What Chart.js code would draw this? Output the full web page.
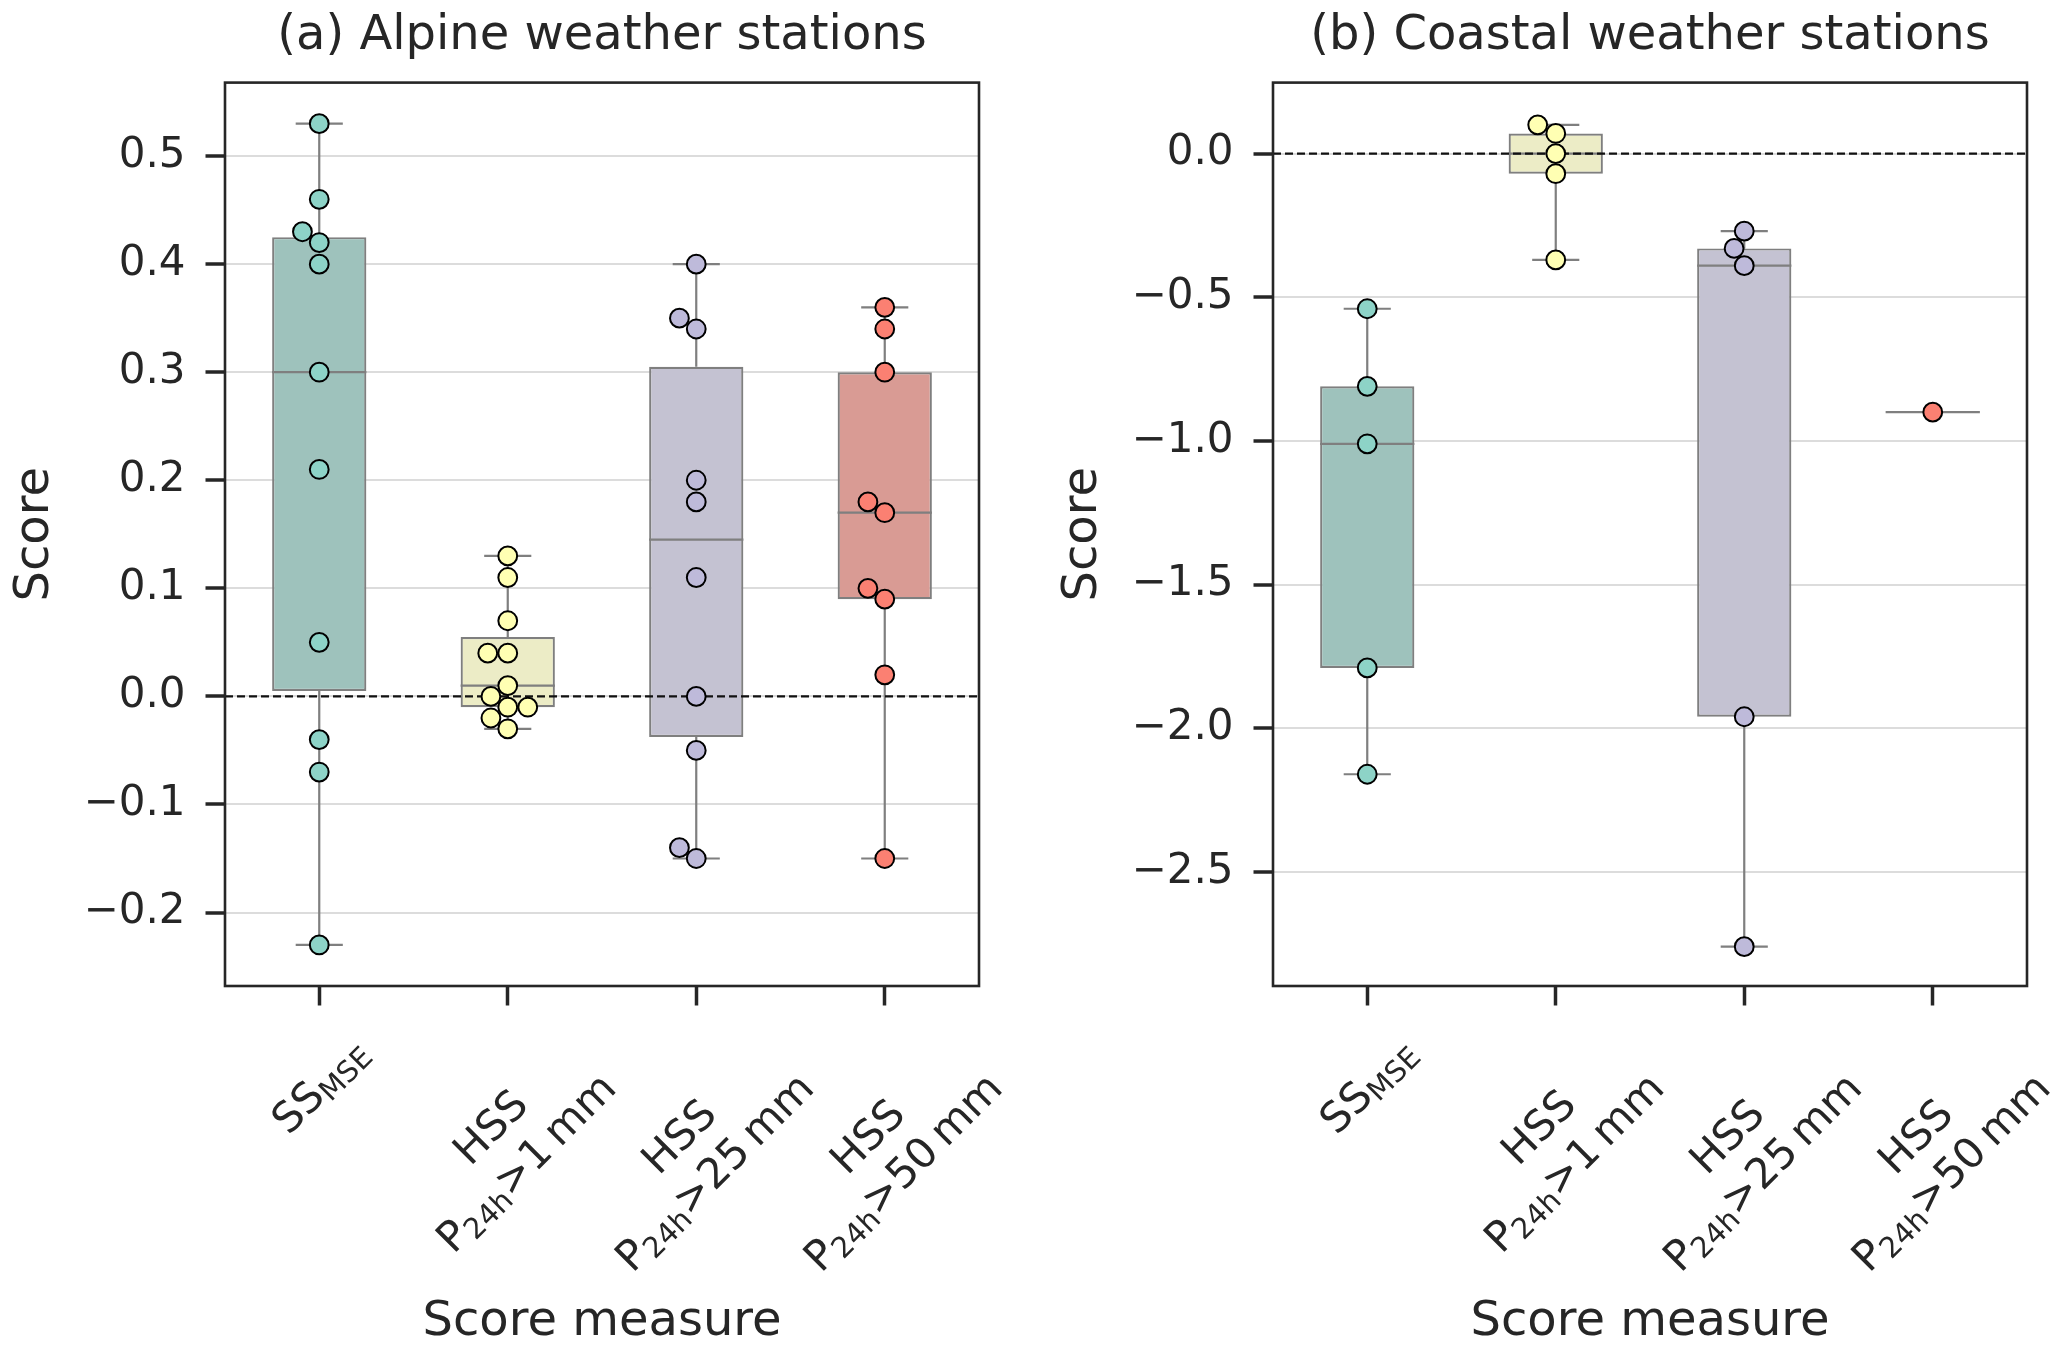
<!DOCTYPE html>
<html>
<head>
<meta charset="utf-8">
<script src="https://cdn.jsdelivr.net/npm/chart.js@4.4.1/dist/chart.umd.min.js"></script>
<style>
  body { margin: 0; background: #fff; }
  .panel { position: absolute; top: 0; height: 1353px; }
</style>
</head>
<body>
<div class="panel" style="left:0;width:1034px"><canvas id="alpine"></canvas></div>
<div class="panel" style="left:1034px;width:1033px"><canvas id="coastal"></canvas></div>
<script>
// categories (subscripts written as _{...})
const categories = ['SS_{MSE}', 'HSS\nP_{24h}>1\u2009mm', 'HSS\nP_{24h}>25\u2009mm', 'HSS\nP_{24h}>50\u2009mm'];

// alpine stations: individual station scores
const alpineSS    = [0.53, 0.46, 0.43, 0.42, 0.40, 0.30, 0.21, 0.05, -0.04, -0.07, -0.23];
const alpineHSS1  = [0.13, 0.11, 0.07, 0.04, 0.04, 0.01, 0.00, -0.01, -0.01, -0.02, -0.03];
const alpineHSS25 = [0.40, 0.35, 0.34, 0.20, 0.18, 0.11, 0.00, -0.05, -0.14, -0.15];
const alpineHSS50 = [0.36, 0.34, 0.30, 0.18, 0.17, 0.10, 0.09, 0.02, -0.15];

// coastal stations
const coastalSS    = [-0.54, -0.81, -1.01, -1.79, -2.16];
const coastalHSS1  = [0.10, 0.07, 0.00, -0.07, -0.37];
const coastalHSS25 = [-0.27, -0.33, -0.39, -1.96, -2.76];
const coastalHSS50 = [-0.90];

// box stats: [whisker low, q1, median, q3, whisker high]
const alpineBoxSS    = [-0.23, 0.005, 0.30, 0.425, 0.53];
const alpineBoxHSS1  = [-0.03, -0.01, 0.01, 0.055, 0.13];
const alpineBoxHSS25 = [-0.15, -0.0375, 0.145, 0.305, 0.40];
const alpineBoxHSS50 = [-0.15, 0.09, 0.17, 0.30, 0.36];

const coastalBoxSS    = [-2.16, -1.79, -1.01, -0.81, -0.54];
const coastalBoxHSS1  = [-0.37, -0.07, 0.00, 0.07, 0.10];
const coastalBoxHSS25 = [-2.76, -1.96, -0.39, -0.33, -0.27];
const coastalBoxHSS50 = [-0.90, -0.90, -0.90, -0.90, -0.90];

// tick labels
const alpineTicks  = [-0.2, -0.1, 0.0, 0.1, 0.2, 0.3, 0.4, 0.5];
const coastalTicks = [-2.5, -2.0, -1.5, -1.0, -0.5, 0.0];

const pointColors = ['#8dd3c7', '#ffffb3', '#bebada', '#fb8072'];
const boxColors   = ['#9ec2bc', '#ececc6', '#c4c2d2', '#d99b94'];

const INK = '#262626';
const LINEGRAY = '#7f7f7f';
const DOT = 20;          // swarm collision diameter in px
const TICK_FONT = 42;

Chart.defaults.font.family = '"DejaVu Sans", sans-serif';
Chart.defaults.color = INK;

function fmtTick(v) {
    const s = Math.abs(v).toFixed(1);
    return v < -1e-9 ? '\u2212' + s : s;
}

// split a label line into normal / subscript pieces
function parseLine(line) {
    const segs = [];
    const re = /_\{([^}]*)\}/g;
    let last = 0, m;
    while ((m = re.exec(line)) !== null) {
        if (m.index > last) segs.push({ text: line.slice(last, m.index), sub: false });
        segs.push({ text: m[1], sub: true });
        last = re.lastIndex;
    }
    if (last < line.length) segs.push({ text: line.slice(last), sub: false });
    return segs;
}

// rotated x labels with subscripts
const xLabelPlugin = {
    id: 'xLabels',
    afterDraw(chart) {
        const ctx = chart.ctx;
        const xs = chart.scales.x;
        const top = chart.chartArea.bottom + 41;
        const LINE = TICK_FONT * 1.2, ASC = TICK_FONT * 0.93, DESC = TICK_FONT * 0.24;
        const fontOf = s => (s.sub ? Math.round(TICK_FONT * 0.7) : TICK_FONT) + 'px "DejaVu Sans"';
        ctx.save();
        ctx.fillStyle = INK;
        ctx.textAlign = 'left';
        ctx.textBaseline = 'alphabetic';
        categories.forEach((label, i) => {
            const lines = label.split('\n').map(parseLine);
            const widths = lines.map(segs => segs.reduce((w, s) => {
                ctx.font = fontOf(s);
                return w + ctx.measureText(s.text).width;
            }, 0));
            const W = Math.max(...widths);
            const H = (lines.length - 1) * LINE + ASC + DESC;
            const half = (W + H) / (2 * Math.SQRT2);
            ctx.save();
            ctx.translate(xs.getPixelForValue(i), top + half);
            ctx.rotate(-Math.PI / 4);
            lines.forEach((segs, j) => {
                let x = -widths[j] / 2;
                const base = -H / 2 + ASC + j * LINE;
                segs.forEach(s => {
                    ctx.font = fontOf(s);
                    ctx.fillText(s.text, x, base + (s.sub ? TICK_FONT * 0.14 : 0));
                    x += ctx.measureText(s.text).width;
                });
            });
            ctx.restore();
        });
        ctx.restore();
    }
};

// axes frame on all four sides
const framePlugin = {
    id: 'frame',
    afterDraw(chart) {
        const { ctx, chartArea: a } = chart;
        ctx.save();
        ctx.strokeStyle = INK;
        ctx.lineWidth = 2.6;
        ctx.strokeRect(a.left, a.top, a.right - a.left, a.bottom - a.top);
        ctx.restore();
    }
};

// whiskers, caps, medians and the dashed zero line (after boxes, before points)
function boxExtras(stats) {
    return {
        id: 'boxExtras',
        afterDatasetDraw(chart, args) {
            if (args.index !== 0) return;
            const { ctx, chartArea: a } = chart;
            const xs = chart.scales.x, ys = chart.scales.y;
            const bars = chart.getDatasetMeta(0).data;
            ctx.save();
            ctx.strokeStyle = LINEGRAY;
            ctx.lineWidth = 2.2;
            ctx.lineCap = 'butt';
            stats.forEach((b, i) => {
                const cx = xs.getPixelForValue(i);
                const hw = bars[i].width / 2;
                const [lo, q1, med, q3, hi] = b.map(v => ys.getPixelForValue(v));
                ctx.beginPath();
                ctx.moveTo(cx, q1); ctx.lineTo(cx, lo);
                ctx.moveTo(cx, q3); ctx.lineTo(cx, hi);
                ctx.moveTo(cx - hw / 2, lo); ctx.lineTo(cx + hw / 2, lo);
                ctx.moveTo(cx - hw / 2, hi); ctx.lineTo(cx + hw / 2, hi);
                ctx.moveTo(cx - hw, med); ctx.lineTo(cx + hw, med);
                ctx.stroke();
            });
            const y0 = ys.getPixelForValue(0);
            ctx.strokeStyle = '#111';
            ctx.lineWidth = 2.2;
            ctx.setLineDash([8, 4]);
            ctx.beginPath();
            ctx.moveTo(a.left, y0);
            ctx.lineTo(a.right, y0);
            ctx.stroke();
            ctx.restore();
        }
    };
}

// seaborn-like swarm placement, done in pixel space through the chart's scales
function placeSwarm(chart, groups) {
    const xs = chart.scales.x, ys = chart.scales.y;
    const data = [], colors = [];
    groups.forEach((vals, g) => {
        const cx = xs.getPixelForValue(g);
        const placed = [];
        const order = vals.map((v, k) => k).sort((a, b) => vals[a] - vals[b]);
        order.forEach(k => {
            const py = ys.getPixelForValue(vals[k]);
            const near = placed.filter(p => Math.abs(p.y - py) < DOT);
            const cands = [cx];
            near.forEach(p => {
                const dx = Math.sqrt(DOT * DOT - (p.y - py) * (p.y - py));
                cands.push(p.x - dx, p.x + dx);
            });
            cands.sort((a, b) => Math.abs(a - cx) - Math.abs(b - cx));
            const px = cands.find(c => near.every(p => Math.hypot(p.x - c, p.y - py) > DOT - 0.01));
            placed.push({ x: px, y: py });
            data.push({ x: xs.getValueForPixel(px), y: vals[k] });
            colors.push(pointColors[g]);
        });
    });
    const ds = chart.data.datasets[1];
    ds.data = data;
    ds.pointBackgroundColor = colors;
    chart.update();
}

function panel(id, cfg) {
    const chart = new Chart(document.getElementById(id), {
        type: 'scatter',
        data: {
            datasets: [
                {
                    type: 'bar',
                    data: cfg.boxes.map((b, i) => ({ x: i, y: [b[1], b[3]] })),
                    backgroundColor: boxColors,
                    borderColor: LINEGRAY,
                    borderWidth: 2.2,
                    borderSkipped: false,
                    categoryPercentage: 0.5,
                    barPercentage: 1,
                    order: 2
                },
                {
                    type: 'scatter',
                    data: [],
                    pointRadius: 9.4,
                    pointBorderWidth: 2,
                    pointBorderColor: '#000',
                    pointBackgroundColor: [],
                    order: 1
                }
            ]
        },
        options: {
            responsive: true,
            maintainAspectRatio: false,
            animation: false,
            events: [],
            layout: { padding: { left: 0, top: 0, right: cfg.padRight, bottom: 0 } },
            plugins: {
                legend: { display: false },
                tooltip: { enabled: false },
                title: {
                    display: true,
                    text: cfg.title,
                    fullSize: false,
                    color: INK,
                    font: { size: 48, weight: 'normal' },
                    padding: { top: 8, bottom: 17 }
                }
            },
            scales: {
                x: {
                    type: 'linear',
                    offset: false,
                    min: -0.5,
                    max: 3.5,
                    afterBuildTicks: s => { s.ticks = categories.map((c, i) => ({ value: i })); },
                    afterFit: s => { s.height = 367; },
                    ticks: { display: false },
                    grid: { offset: false, drawOnChartArea: false, drawTicks: true, tickLength: 19.5, tickColor: INK, tickWidth: 3.5 },
                    border: { display: false },
                    title: { display: true, text: 'Score measure', color: INK, font: { size: 48 }, padding: { top: 0, bottom: 2 } }
                },
                y: {
                    type: 'linear',
                    min: cfg.yMin,
                    max: cfg.yMax,
                    afterBuildTicks: s => { s.ticks = cfg.ticks.map(v => ({ value: v })); },
                    afterFit: s => { s.width = cfg.axisWidth; },
                    ticks: { callback: fmtTick, padding: 20, color: INK, font: { size: TICK_FONT } },
                    grid: { color: '#dcdcdc', lineWidth: 2, drawTicks: true, tickLength: 19.5, tickColor: INK, tickWidth: 3.5 },
                    border: { display: false },
                    title: { display: true, text: 'Score', color: INK, font: { size: 48 }, padding: { top: cfg.titlePad } }
                }
            }
        },
        plugins: [boxExtras(cfg.boxes), framePlugin, xLabelPlugin]
    });
    placeSwarm(chart, cfg.points);
    return chart;
}

panel('alpine', {
    title: '(a) Alpine weather stations',
    points: [alpineSS, alpineHSS1, alpineHSS25, alpineHSS50],
    boxes: [alpineBoxSS, alpineBoxHSS1, alpineBoxHSS25, alpineBoxHSS50],
    ticks: alpineTicks,
    yMin: -0.268, yMax: 0.568,
    axisWidth: 225, padRight: 55, titlePad: 7
});

panel('coastal', {
    title: '(b) Coastal weather stations',
    points: [coastalSS, coastalHSS1, coastalHSS25, coastalHSS50],
    boxes: [coastalBoxSS, coastalBoxHSS1, coastalBoxHSS25, coastalBoxHSS50],
    ticks: coastalTicks,
    yMin: -2.897, yMax: 0.247,
    axisWidth: 239, padRight: 40, titlePad: 21
});
</script>
</body>
</html>
